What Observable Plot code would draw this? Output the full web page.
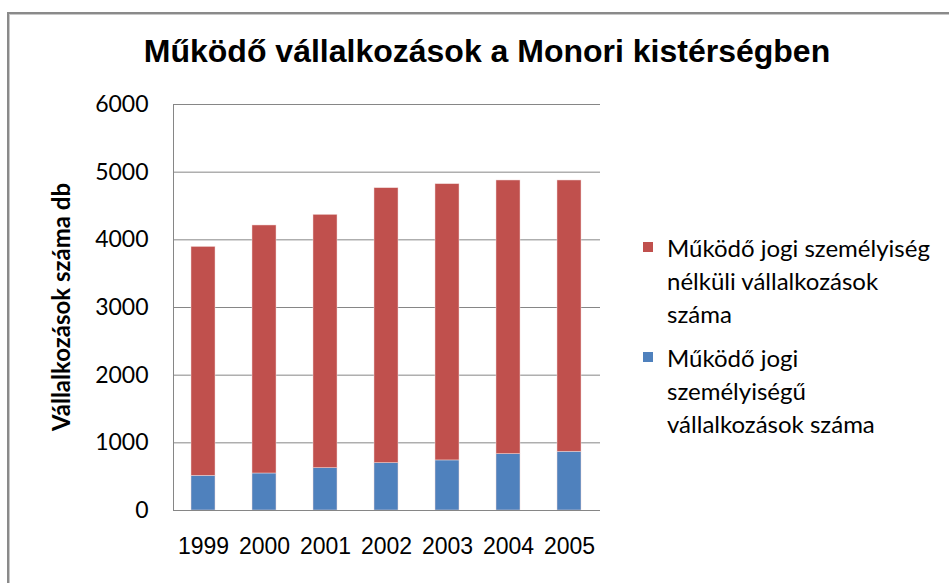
<!DOCTYPE html>
<html>
<head>
<meta charset="utf-8">
<script src="https://cdn.jsdelivr.net/npm/d3@7"></script>
<script src="https://cdn.jsdelivr.net/npm/@observablehq/plot@0.6"></script>
<style>
  html, body { margin: 0; padding: 0; background: #fff; }
  #wrap { position: relative; width: 949px; height: 583px; overflow: hidden; background: #fff; }
  #frame { position: absolute; left: 7px; top: 12px; width: 1000px; height: 700px;
           border-left: 2px solid #8a8a8a; border-top: 2px solid #8a8a8a; box-shadow: inset 1px 1px 0 #c8c8c8; }
  #title { position: absolute; left: 0; width: 974px; top: 33px; text-align: center;
           font-family: "Liberation Sans", Arial, sans-serif; font-weight: bold; font-size: 32px; color: #000; }
  #ylabel { position: absolute; left: 60px; top: 307px; transform: translate(-50%, -50%) rotate(-90deg);
            white-space: nowrap; font-family: Lato, "Open Sans", sans-serif; font-weight: bold; font-size: 24px; color: #000; }
  #chart { position: absolute; left: 0; top: 0; }
  .leg { position: absolute; left: 643px; font-family: Lato, "Open Sans", sans-serif; font-size: 24px;
         line-height: 33px; color: #000; }
  .leg .sw { position: absolute; left: 0; top: 11px; width: 10px; height: 10px; }
  .leg .tx { position: absolute; left: 24px; top: 0; white-space: nowrap; }
</style>
</head>
<body>
<div id="wrap">
  <div id="frame"></div>
  <div id="chart"></div>
  <div id="title"></div>
  <div id="ylabel"></div>
  <div id="legend"></div>
</div>
<script>
const titleText = "Működő vállalkozások a Monori kistérségben";
const yLabel = "Vállalkozások száma db";
const years = ["1999", "2000", "2001", "2002", "2003", "2004", "2005"];
const seriesNames = [
  "Működő jogi személyiségű vállalkozások száma",
  "Működő jogi személyiség nélküli vállalkozások száma"
];
const jogiSzemelyisegu = [513, 547, 626, 700, 740, 833, 868];
const jogiNelkuli = [3382, 3665, 3743, 4063, 4082, 4044, 4009];
const yTicks = [0, 1000, 2000, 3000, 4000, 5000, 6000];
const colors = ["#4F81BD", "#C0504D"];

const data = [];
years.forEach((yr, i) => {
  data.push({year: yr, series: seriesNames[0], value: jogiSzemelyisegu[i]});
  data.push({year: yr, series: seriesNames[1], value: jogiNelkuli[i]});
});

document.getElementById("title").textContent = titleText;
document.getElementById("ylabel").textContent = yLabel;

const chart = Plot.plot({
  width: 949,
  height: 583,
  marginLeft: 173,
  marginRight: 349,
  marginTop: 104,
  marginBottom: 73,
  style: {background: "transparent", overflow: "visible"},
  x: {domain: years, paddingInner: 0.6, paddingOuter: 0.3, label: null},
  y: {domain: [0, 6000], ticks: yTicks, label: null},
  color: {domain: seriesNames, range: colors},
  marks: [
    Plot.gridY(yTicks.filter(d => d > 0), {stroke: "#868686", strokeOpacity: 1, strokeWidth: 1}),
    Plot.barY(data, {x: "year", y: "value", fill: "series", order: seriesNames,
                     stroke: "#f2dcdb", strokeWidth: 0.6, strokeOpacity: 0.8}),
    Plot.frame({anchor: "left", stroke: "#868686"}),
    Plot.ruleY([0], {stroke: "#868686"}),
    Plot.axisY({ticks: yTicks, tickSize: 0, tickPadding: 25, label: null, tickFormat: d => String(d),
                fontFamily: "Lato, 'Open Sans', sans-serif", fontSize: 23, fill: "#000"}),
    Plot.axisX({tickSize: 0, tickPadding: 27, label: null,
                fontFamily: "'Liberation Sans', Arial, sans-serif", fontSize: 23, fill: "#000"})
  ]
});
document.getElementById("chart").appendChild(chart);

const legendItems = [
  {color: colors[1], lines: ["Működő jogi személyiség", "nélküli vállalkozások", "száma"], top: 231},
  {color: colors[0], lines: ["Működő jogi", "személyiségű", "vállalkozások száma"], top: 341}
];
const legend = document.getElementById("legend");
legendItems.forEach(it => {
  const d = document.createElement("div");
  d.className = "leg";
  d.style.top = it.top + "px";
  const sw = document.createElement("div");
  sw.className = "sw";
  sw.style.background = it.color;
  const tx = document.createElement("div");
  tx.className = "tx";
  it.lines.forEach((l, k) => {
    if (k > 0) tx.appendChild(document.createElement("br"));
    tx.appendChild(document.createTextNode(l));
  });
  d.appendChild(sw);
  d.appendChild(tx);
  legend.appendChild(d);
});
</script>
</body>
</html>
